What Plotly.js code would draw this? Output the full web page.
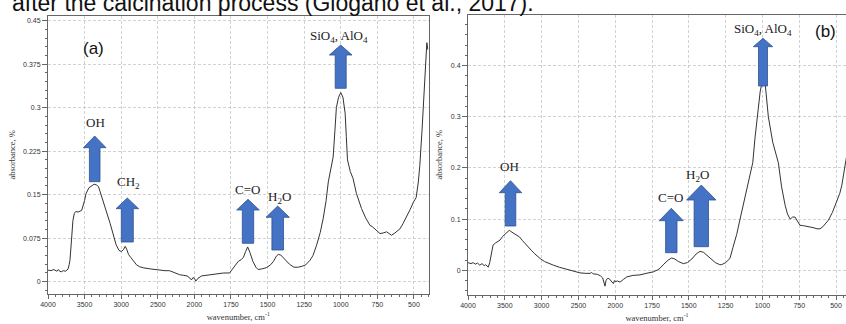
<!DOCTYPE html>
<html>
<head>
<meta charset="utf-8">
<script src="https://cdn.plot.ly/plotly-3.0.1.min.js"></script>
<style>html,body{margin:0;padding:0;background:#fff;overflow:hidden}#chart{width:846px;height:324px}</style>
</head>
<body>
<div id="chart"></div>
<script>
// ---------- DATA ----------
const tickWavenumbers = [4000, 3500, 3000, 2500, 2000, 1750, 1500, 1250, 1000, 750, 500];
const tickLabelsX = ["4000","3500","3000","2500","2000","1750","1500","1250","1000","750","500"];

const yTicksA = [0, 0.075, 0.15, 0.225, 0.3, 0.375, 0.45];
const yTickLabelsA = ["0","0.075","0.15","0.225","0.3","0.375","0.45"];
const yTicksB = [0, 0.1, 0.2, 0.3, 0.4, 0.5];
const yTickLabelsB = ["0","0.1","0.2","0.3","0.4","0.5"];

// Panel (a) spectrum
const waveA = [4000,3960,3920,3880,3860,3850,3820,3790,3760,3740,3725,3710,3700,3680,3660,3640,3620,3590,3560,3540,3500,3480,3440,3400,3370,3340,3310,3290,3260,3230,3200,3150,3110,3070,3030,3000,2970,2945,2925,2900,2870,2830,2790,2750,2700,2600,2500,2400,2340,2320,2250,2200,2150,2100,2060,2040,2020,2000,1990,1975,1950,1900,1850,1800,1760,1740,1720,1700,1680,1665,1650,1636,1620,1600,1580,1565,1540,1510,1480,1460,1440,1427,1410,1390,1370,1350,1320,1290,1260,1240,1210,1190,1165,1140,1120,1100,1085,1065,1052,1040,1030,1015,1000,985,970,962,954,935,916,893,875,858,830,800,785,770,754,732,710,687,670,653,630,610,596,575,550,525,504,485,470,460,445,430,420,412,405];
const absA  = [0.020,0.019,0.021,0.018,0.021,0.019,0.017,0.019,0.018,0.020,0.022,0.030,0.037,0.070,0.105,0.118,0.121,0.120,0.122,0.123,0.140,0.152,0.162,0.166,0.168,0.167,0.164,0.156,0.145,0.132,0.120,0.100,0.080,0.064,0.054,0.052,0.055,0.061,0.056,0.047,0.042,0.036,0.029,0.026,0.024,0.022,0.020,0.019,0.019,0.018,0.015,0.012,0.011,0.010,0.006,0.003,0.007,0.006,0.001,0.006,0.010,0.012,0.014,0.015,0.015,0.022,0.030,0.035,0.038,0.042,0.052,0.060,0.050,0.035,0.025,0.021,0.022,0.024,0.029,0.035,0.044,0.047,0.046,0.041,0.036,0.030,0.025,0.025,0.027,0.029,0.037,0.045,0.063,0.085,0.109,0.140,0.172,0.200,0.215,0.260,0.300,0.318,0.326,0.318,0.290,0.250,0.210,0.190,0.178,0.152,0.138,0.126,0.110,0.097,0.095,0.092,0.089,0.083,0.084,0.086,0.083,0.080,0.084,0.088,0.091,0.100,0.112,0.125,0.137,0.145,0.172,0.200,0.260,0.330,0.390,0.412,0.400];

// Panel (b) spectrum
const waveB = [4000,3960,3930,3900,3870,3840,3810,3780,3760,3740,3725,3705,3680,3660,3630,3600,3565,3530,3500,3470,3440,3420,3400,3370,3340,3300,3260,3220,3180,3140,3100,3060,3020,2960,2900,2840,2760,2660,2560,2480,2400,2340,2320,2300,2240,2200,2170,2150,2139,2125,2107,2085,2070,2050,2025,2010,2000,1985,1967,1945,1922,1880,1832,1790,1741,1710,1696,1670,1640,1617,1595,1570,1538,1510,1480,1450,1424,1400,1380,1356,1320,1290,1277,1250,1221,1200,1175,1152,1125,1096,1080,1066,1050,1033,1015,995,980,960,930,892,870,846,830,812,795,779,760,745,720,700,677,650,630,609,590,570,552,525,495,475,461,445,430,420];
const absB  = [0.015,0.013,0.015,0.012,0.014,0.010,0.013,0.009,0.011,0.007,0.006,0.015,0.035,0.049,0.053,0.056,0.059,0.066,0.070,0.074,0.078,0.076,0.074,0.071,0.069,0.065,0.058,0.051,0.045,0.039,0.033,0.027,0.023,0.017,0.013,0.010,0.006,0.002,-0.003,-0.005,-0.006,-0.006,-0.004,-0.007,-0.008,-0.011,-0.015,-0.028,-0.031,-0.020,-0.016,-0.016,-0.018,-0.022,-0.026,-0.020,-0.022,-0.021,-0.023,-0.018,-0.013,-0.010,-0.009,-0.006,-0.003,0.001,0.004,0.012,0.020,0.024,0.022,0.017,0.013,0.015,0.022,0.032,0.037,0.035,0.030,0.023,0.015,0.011,0.011,0.015,0.023,0.045,0.070,0.100,0.135,0.172,0.195,0.210,0.260,0.300,0.350,0.377,0.360,0.300,0.250,0.210,0.163,0.127,0.110,0.100,0.104,0.104,0.094,0.088,0.087,0.086,0.085,0.083,0.081,0.081,0.085,0.091,0.098,0.113,0.133,0.150,0.166,0.190,0.220,0.240];

// ---------- SCALE (split FTIR axis: 500 cm-1 per unit above 2000, 250 below) ----------
function wnToU(w){ return w >= 2000 ? (4000 - w) / 500 : 4 + (2000 - w) / 250; }
const tickU = tickWavenumbers.map(wnToU);

// ---------- LAYOUT HELPERS ----------
const W = 846, H = 324;
const px = x => x / W, py = y => 1 - y / H;
function arrowPath(cx, top, hb, bot, hw, sw){
  return `M ${px(cx)} ${py(top)} L ${px(cx+hw)} ${py(hb)} L ${px(cx+sw)} ${py(hb)} L ${px(cx+sw)} ${py(bot)} L ${px(cx-sw)} ${py(bot)} L ${px(cx-sw)} ${py(hb)} L ${px(cx-hw)} ${py(hb)} Z`;
}
const arrows = [
  [94.7,136,147.7,181.7,11.3,5.3],
  [127.3,198,208.7,242,11.3,6],
  [248,199.3,210,243.3,11.3,5.7],
  [277.7,206,217.3,250,11.7,5.8],
  [340.7,45,55,88.3,11.3,5.5],
  [510.5,180.7,192.7,226,11.2,5.3],
  [671.3,208.3,220.7,252.7,12,5.7],
  [701.3,185,200,246.7,14.7,7.2],
  [763,38.3,46.7,86,9.7,4.5]
];
const shapes = arrows.map(a => ({type:'path', xref:'paper', yref:'paper', path: arrowPath(...a),
  fillcolor:'#4472C4', line:{color:'#2F528F', width:0.8}}));

const serif = {family:'"Liberation Serif","Times New Roman",serif', size:13, color:'#222'};
function lab(text, x, y, font){ return {text, xref:'paper', yref:'paper', x:px(x), y:py(y), xanchor:'center', yanchor:'middle', showarrow:false, font: font || serif}; }
const annotations = [
  lab('OH',95,122.7), lab('CH<sub>2</sub>',128,182), lab('C=O',248,189.3), lab('H<sub>2</sub>O',279.3,197),
  lab('SiO<sub>4</sub>, AlO<sub>4</sub>',339.3,36),
  lab('OH',509.3,166), lab('C=O',670,197.3), lab('H<sub>2</sub>O',697.7,175), lab('SiO<sub>4</sub>, AlO<sub>4</sub>',762.7,29.5),
  lab('(a)',93,48.3,{family:'Arial, "Liberation Sans", sans-serif', size:17, color:'#111'}),
  lab('(b)',825,31.7,{family:'Arial, "Liberation Sans", sans-serif', size:17, color:'#111'}),
  {text:'after the calcination process (Giogano et al., 2017).', xref:'paper', yref:'paper', x:px(10), y:py(2.5), xanchor:'left', yanchor:'middle', showarrow:false,
   font:{family:'Arial, "Liberation Sans", sans-serif', size:23, color:'#111'}}
];

const tickFont = {family:'Arial, "Liberation Sans", sans-serif', size:7, color:'#333'};
const titleFont = {family:'"Liberation Serif","Times New Roman",serif', size:8.5, color:'#333'};
const gridStyle = {showgrid:true, gridcolor:'#b4b4b4', griddash:'3px,2px', gridwidth:0.6, zeroline:false};
function xAxis(domain, rangeEnd, anchor){
  return Object.assign({domain, range:[0, rangeEnd], anchor, tickmode:'array', tickvals:tickU, ticktext:tickLabelsX,
    showline:true, mirror:true, linecolor:'#666', linewidth:1, ticks:'outside', ticklen:4, tickcolor:'#666',
    tickfont:tickFont, minor:{tickmode:'linear', tick0:0, dtick:0.2, ticks:'outside', ticklen:2.5, tickcolor:'#666', showgrid:false},
    title:{text:'wavenumber, cm<sup>-1</sup>', font:titleFont, standoff:6}, automargin:false, fixedrange:true}, gridStyle);
}
function yAxis(domain, range, vals, labels, minorStep, anchor){
  return Object.assign({domain, range, anchor, tickmode:'array', tickvals:vals, ticktext:labels,
    showline:true, mirror:true, linecolor:'#666', linewidth:1, ticks:'outside', ticklen:5, tickcolor:'#666',
    tickfont:tickFont, minor:{tickmode:'linear', tick0:0, dtick:minorStep, ticks:'outside', ticklen:2.5, tickcolor:'#666', showgrid:false},
    title:{text:'absorbance, %', font:titleFont, standoff:6}, automargin:false, fixedrange:true}, gridStyle);
}

const traces = [
  {x: waveA.map(wnToU), y: absA, xaxis:'x', yaxis:'y', type:'scatter', mode:'lines', line:{color:'#333', width:1}, hoverinfo:'skip'},
  {x: waveB.map(wnToU), y: absB, xaxis:'x2', yaxis:'y2', type:'scatter', mode:'lines', line:{color:'#333', width:1}, hoverinfo:'skip'}
];

const layout = {
  width: W, height: H, margin:{l:0, r:0, t:0, b:0},
  paper_bgcolor:'#fff', plot_bgcolor:'#fff', showlegend:false,
  xaxis: xAxis([0.05674, 0.5066], 10.4, 'y'),
  yaxis: yAxis([0.0935, 0.9506], [-0.0207, 0.458], yTicksA, yTickLabelsA, 0.015, 'x'),
  xaxis2: xAxis([0.5532, 1], 10.27, 'y2'),
  yaxis2: yAxis([0.0904, 0.9546], [-0.0477, 0.4992], yTicksB, yTickLabelsB, 0.02, 'x2'),
  shapes, annotations
};
Plotly.newPlot('chart', traces, layout, {displayModeBar:false, staticPlot:true});
</script>
</body>
</html>
